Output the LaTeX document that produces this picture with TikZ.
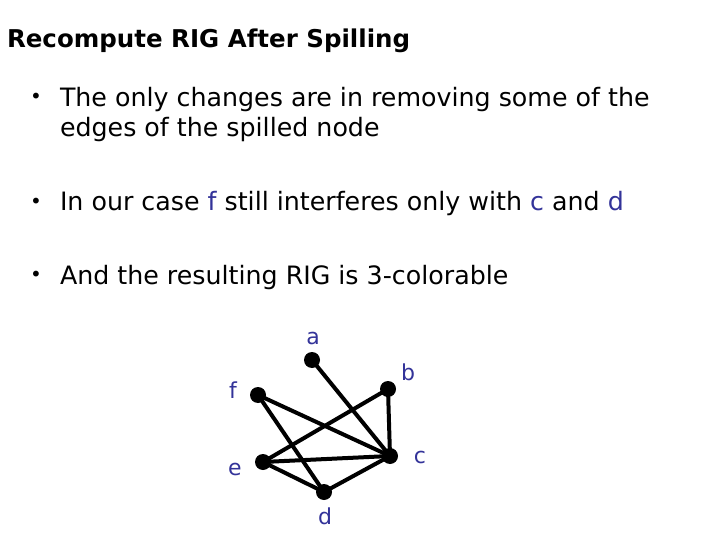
\documentclass[tikz,border=0pt]{standalone}
\usepackage{fontspec}
\setmainfont{DejaVu Sans}
\usetikzlibrary{positioning}

\definecolor{lblblue}{RGB}{51,51,153}

\begin{document}
\begin{tikzpicture}[
    x=1pt, y=-1pt,
    every node/.style={inner sep=0pt, outer sep=0pt},
    bullet/.style={anchor=base, font=\fontsize{20}{20}\selectfont},
    para/.style={anchor=base west, font=\fontsize{25.3}{26}\selectfont},
    vtx/.style={circle, fill=black, minimum size=16pt},
    vlbl/.style={text=lblblue, font=\fontsize{22}{22}\selectfont},
    edge/.style={line width=4pt},
  ]

  % ------------------------------------------------------------------
  % page frame: 720 x 540, y grows downwards
  % ------------------------------------------------------------------
  \useasboundingbox (0,0) rectangle (720,540);

  % title
  \node[anchor=base west, font=\bfseries\fontsize{24.5}{24}\selectfont]
       (title) at (7,48) {Recompute RIG After Spilling};

  % ------------------------------------------------------------------
  % bullet list
  % ------------------------------------------------------------------
  \def\xb{36}   % bullet column
  \def\xt{60}   % text column

  \node[bullet] (b1) at (\xb,104) {•};
  \node[para] (t1) at (\xt,107) {The only changes are in removing some of the};
  \node[para] (t1b) at (\xt,137) {edges of the spilled node};

  \node[bullet] (b2) at (\xb,208) {•};
  \node[para] (t2) at (\xt,211)
       {In our case \textcolor{lblblue}{f} still interferes only with
        \textcolor{lblblue}{c} and \textcolor{lblblue}{d}};

  \node[bullet] (b3) at (\xb,281) {•};
  \node[para] (t3) at (\xt,284) {And the resulting RIG is 3-colorable};

  % ------------------------------------------------------------------
  % interference graph after spilling
  % ------------------------------------------------------------------
  \node[vtx] (a) at (312,360) {};
  \node[vtx] (b) at (388,389) {};
  \node[vtx] (f) at (258,395) {};
  \node[vtx] (e) at (263,462) {};
  \node[vtx] (c) at (390,456) {};
  \node[vtx] (d) at (324,492) {};

  \node[vlbl] (la) at (313,338) {a};
  \node[vlbl] (lb) at (408,372) {b};
  \node[vlbl] (lf) at (233,390) {f};
  \node[vlbl] (le) at (235,469) {e};
  \node[vlbl] (lc) at (420,457) {c};
  \node[vlbl] (ld) at (325,516) {d};

  % edges
  \foreach \u/\v in {a/c, f/c, f/d, b/e, b/c, e/c, e/d, d/c} {
    \draw[edge] (\u.center) -- (\v.center);
  }

\end{tikzpicture}
\end{document}
